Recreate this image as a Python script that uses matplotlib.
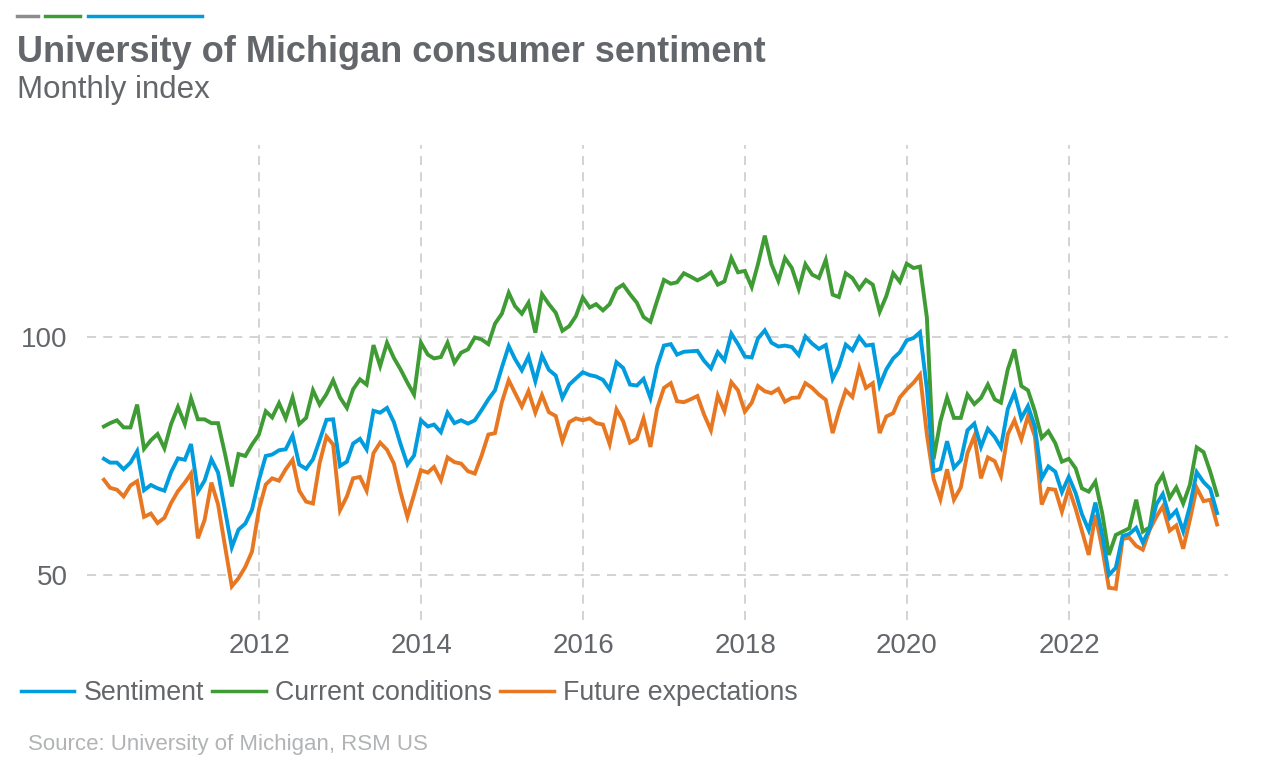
import numpy as np
import pandas as pd
import matplotlib
matplotlib.use("Agg")
import matplotlib.pyplot as plt
import matplotlib.dates as mdates
from matplotlib.lines import Line2D

# monthly readings, Jan 2010 - Oct 2023 (plotted at month end)
months = pd.date_range("2010-01-31", "2023-10-31", freq="ME")

sentiment = [
    74.4, 73.6, 73.6, 72.2, 73.6, 76.0, 67.8, 68.9, 68.2, 67.7, 71.6, 74.5,
    74.2, 77.5, 67.5, 69.8, 74.3, 71.5, 63.7, 55.8, 59.5, 60.8, 63.7, 69.9,
    75.0, 75.3, 76.2, 76.4, 79.3, 73.2, 72.3, 74.3, 78.3, 82.6, 82.7, 72.9,
    73.8, 77.6, 78.6, 76.4, 84.5, 84.1, 85.1, 82.1, 77.5, 73.2, 75.1, 82.5,
    81.2, 81.6, 80.0, 84.1, 81.9, 82.5, 81.8, 82.5, 84.6, 86.9, 88.8, 93.6,
    98.1, 95.4, 93.0, 95.9, 90.7, 96.1, 93.1, 91.9, 87.2, 90.0, 91.3, 92.6,
    92.0, 91.7, 91.0, 89.0, 94.7, 93.5, 90.0, 89.8, 91.2, 87.2, 93.8, 98.2,
    98.5, 96.3, 96.9, 97.0, 97.1, 95.0, 93.4, 96.8, 95.1, 100.7, 98.5, 95.9,
    95.7, 99.7, 101.4, 98.8, 98.0, 98.2, 97.9, 96.2, 100.1, 98.6, 97.5, 98.3,
    91.2, 93.8, 98.4, 97.2, 100.0, 98.2, 98.4, 89.8, 93.2, 95.5, 96.8, 99.3,
    99.8, 101.0, 89.1, 71.8, 72.3, 78.1, 72.5, 74.1, 80.4, 81.8, 76.9, 80.7,
    79.0, 76.8, 84.9, 88.3, 82.9, 85.5, 81.2, 70.3, 72.8, 71.7, 67.4, 70.6,
    67.2, 62.8, 59.4, 65.2, 58.4, 50.0, 51.5, 58.2, 58.6, 59.9, 56.8, 59.7,
    64.9, 67.0, 62.0, 63.5, 59.2, 64.4, 71.6, 69.5, 68.1, 63.0,
]

current = [
    81.2, 81.9, 82.5, 81.0, 81.0, 85.8, 76.5, 78.3, 79.6, 76.6, 81.7, 85.3,
    81.7, 87.1, 82.7, 82.7, 81.9, 81.9, 75.5, 68.6, 75.4, 75.0, 77.4, 79.5,
    84.4, 83.1, 86.1, 82.9, 87.3, 81.7, 83.0, 88.8, 85.8, 88.0, 90.9, 87.3,
    85.1, 89.0, 91.1, 90.0, 98.3, 93.9, 98.8, 95.6, 93.2, 90.4, 87.9, 98.8,
    96.3, 95.5, 95.8, 98.8, 94.6, 96.7, 97.4, 99.9, 99.5, 98.5, 102.8, 104.9,
    109.3, 106.5, 104.9, 107.2, 100.9, 109.0, 106.9, 105.1, 101.3, 102.3, 104.4, 108.3,
    106.2, 106.9, 105.6, 106.9, 110.1, 111.0, 109.0, 107.2, 104.2, 103.2, 107.6, 112.0,
    111.2, 111.5, 113.4, 112.7, 111.9, 112.6, 113.6, 111.0, 111.7, 116.6, 113.6, 113.9,
    110.5, 115.3, 121.3, 115.3, 111.8, 116.6, 114.5, 110.1, 115.3, 113.1, 112.4, 116.2,
    108.9, 108.4, 113.4, 112.4, 110.1, 112.0, 111.0, 105.3, 108.6, 113.4, 111.6, 115.4,
    114.5, 114.8, 104.1, 74.3, 82.3, 87.3, 83.0, 83.0, 87.9, 85.9, 87.2, 90.0,
    86.9, 86.2, 93.2, 97.4, 89.7, 88.8, 84.4, 78.8, 80.2, 77.7, 73.8, 74.4,
    72.4, 68.2, 67.5, 69.6, 62.9, 54.2, 58.4, 59.1, 59.8, 65.8, 59.1, 60.0,
    68.9, 71.0, 66.2, 68.4, 65.0, 68.9, 76.8, 75.8, 71.7, 66.8,
]

expectations = [
    70.0, 68.3, 67.9, 66.5, 68.8, 69.7, 62.2, 62.9, 60.9, 62.0, 65.1, 67.6,
    69.4, 71.3, 57.7, 61.5, 69.4, 64.8, 56.1, 47.6, 49.3, 51.7, 54.9, 63.7,
    69.0, 70.3, 69.8, 72.2, 74.2, 67.7, 65.4, 65.0, 73.5, 79.1, 77.4, 63.6,
    66.5, 70.3, 70.6, 67.7, 75.6, 77.8, 76.3, 73.4, 67.4, 62.2, 66.9, 72.0,
    71.5, 72.7, 69.9, 74.7, 73.7, 73.4, 71.8, 71.3, 75.0, 79.5, 79.8, 86.3,
    90.9, 88.3, 85.4, 88.6, 84.1, 87.8, 84.2, 83.4, 78.1, 82.1, 82.9, 82.5,
    82.9, 81.9, 81.6, 77.5, 84.8, 82.3, 77.8, 78.6, 82.9, 76.9, 84.9, 89.3,
    90.3, 86.5, 86.3, 86.9, 87.6, 83.7, 80.4, 87.7, 84.4, 90.5, 88.8, 84.3,
    86.2, 89.7, 88.6, 88.2, 89.1, 86.4, 87.2, 87.3, 90.3, 89.3, 87.9, 86.8,
    79.8, 84.4, 88.8, 87.4, 93.5, 89.3, 90.3, 79.8, 83.3, 84.0, 87.3, 89.0,
    90.4, 92.1, 79.5, 70.2, 65.9, 72.2, 65.8, 68.4, 75.6, 79.2, 70.3, 74.7,
    73.9, 70.8, 79.6, 82.5, 78.5, 83.4, 79.1, 64.8, 68.1, 67.9, 63.3, 68.2,
    63.9, 59.3, 54.2, 62.6, 55.5, 47.3, 47.1, 57.6, 57.8, 56.1, 55.3, 59.5,
    62.3, 64.4, 59.3, 60.4, 55.5, 61.5, 68.3, 65.5, 65.8, 60.6,
]

BLUE = "#009cde"
GREEN = "#3f9c35"
ORANGE = "#e87722"
TXT = "#63666a"
GRID = "#d0d0d0"

plt.rcParams["font.family"] = ["Liberation Sans", "DejaVu Sans"]

fig = plt.figure(figsize=(12.8, 7.81), dpi=100)
ax = fig.add_axes([0.068, 0.206, 0.891, 0.608])

ax.plot(months, current, color=GREEN, lw=2.8, solid_joinstyle="miter", zorder=3)
ax.plot(months, expectations, color=ORANGE, lw=2.8, solid_joinstyle="miter", zorder=3)
ax.plot(months, sentiment, color=BLUE, lw=2.8, solid_joinstyle="miter", zorder=4)

ax.set_ylim(40.5, 140.3)
ax.set_xlim(pd.Timestamp("2009-11-16"), pd.Timestamp("2023-12-17"))
ax.set_yticks([50, 100])
ax.set_xticks([pd.Timestamp(f"{y}-01-01") for y in range(2012, 2023, 2)])
ax.xaxis.set_major_formatter(mdates.DateFormatter("%Y"))

ax.grid(True, color=GRID, lw=1.3, ls=(0, (5, 4)))
for s in ax.spines.values():
    s.set_visible(False)
ax.tick_params(length=0, labelsize=20, labelcolor=TXT)
ax.tick_params(axis="y", pad=14)
ax.tick_params(axis="x", pad=9)

# header
bar_y = 1 - 16 / 781
for x0, x1, c in [(17, 38, "#8c8c8c"), (45, 80, GREEN), (88, 202, BLUE)]:
    fig.add_artist(Line2D([x0 / 1280, x1 / 1280], [bar_y, bar_y], color=c, lw=2.5,
                          transform=fig.transFigure))
fig.text(17 / 1280, 1 - 62 / 781, "University of Michigan consumer sentiment",
         fontsize=26, fontweight="bold", color=TXT, va="baseline")
fig.text(17 / 1280, 1 - 98 / 781, "Monthly index", fontsize=22.5, color=TXT, va="baseline")

handles = [Line2D([], [], color=BLUE, lw=2.5),
           Line2D([], [], color=GREEN, lw=2.5),
           Line2D([], [], color=ORANGE, lw=2.5)]
fig.legend(handles, ["Sentiment", "Current conditions", "Future expectations"],
           loc="center left", bbox_to_anchor=(10 / 1280, 1 - 693 / 781), ncol=3,
           frameon=False, fontsize=19.3, labelcolor=TXT, handlelength=2.0,
           handletextpad=0.35, columnspacing=0.3, borderaxespad=0)

fig.text(28 / 1280, 1 - 750 / 781, "Source: University of Michigan, RSM US",
         fontsize=16, color="#b1b3b5", va="baseline")

fig.savefig("out.png", dpi=100)
